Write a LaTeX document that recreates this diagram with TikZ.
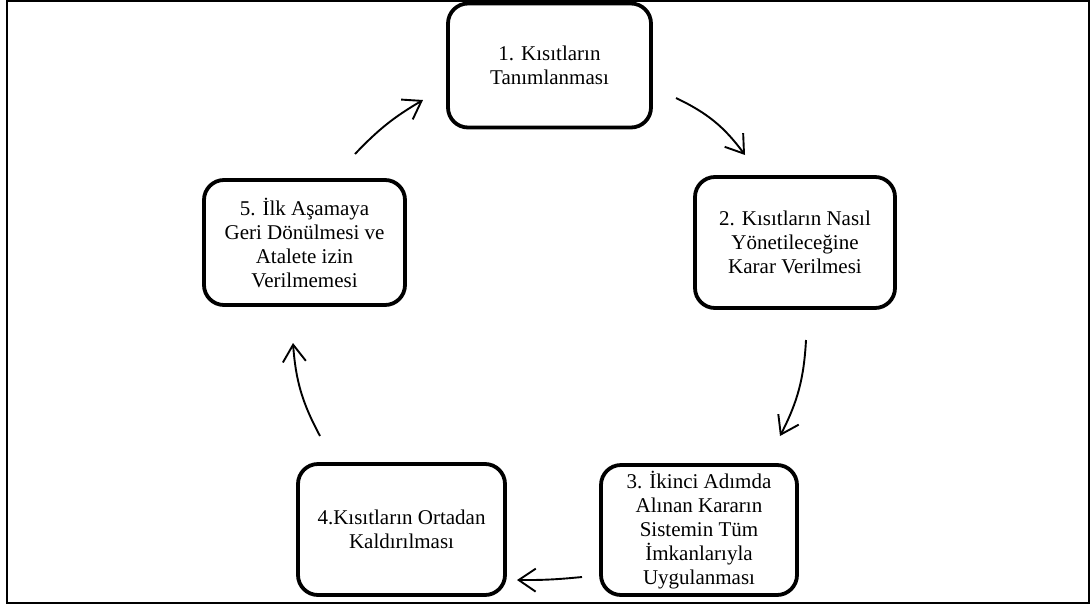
\documentclass[tikz,border=0pt]{standalone}
\usepackage{fontspec}
\setmainfont{Liberation Serif}
\usetikzlibrary{arrows.meta}
\begin{document}
\begin{tikzpicture}[x=1pt,y=-1pt,
  stepbox/.style={draw, line width=3.8pt, rounded corners=20pt, fill=white,
    align=center, font=\fontsize{21}{24}\selectfont, inner sep=0pt},
  flow/.style={line width=1.9pt, -{Straight Barb[length=17pt,width=23pt,line width=1.9pt]}}]
\useasboundingbox (0,0) rectangle (1091,608);
\draw[line width=1.6pt] (7,1) rectangle (1089,603);
% process steps
\node[stepbox, minimum width=203pt, minimum height=124pt] (s1) at (549.5,65.5)
  {1. Kısıtların\\Tanımlanması};
\node[stepbox, minimum width=200pt, minimum height=131pt] (s2) at (795,242.5)
  {2. Kısıtların Nasıl\\Yönetileceğine\\Karar Verilmesi};
\node[stepbox, minimum width=196pt, minimum height=130pt] (s3) at (699,530)
  {3. İkinci Adımda\\Alınan Kararın\\Sistemin Tüm\\İmkanlarıyla\\Uygulanması};
\node[stepbox, minimum width=207pt, minimum height=131pt] (s4) at (401.5,529.5)
  {4.Kısıtların Ortadan\\Kaldırılması};
\node[stepbox, minimum width=201pt, minimum height=125pt] (s5) at (304.5,242.5)
  {5. İlk Aşamaya\\Geri Dönülmesi ve\\Atalete izin\\Verilmemesi};
% connector end points
\coordinate (a1) at (676,98);  \coordinate (b1) at (745,155);
\coordinate (a2) at (806,340); \coordinate (b2) at (780,436);
\coordinate (a3) at (582,577); \coordinate (b3) at (517,580);
\coordinate (a4) at (320,436); \coordinate (b4) at (293,343);
\coordinate (a5) at (355,154); \coordinate (b5) at (423,100);
\draw[flow] (a1) to[bend left=14] (b1);
\draw[flow] (a2) to[bend left=12] (b2);
\draw[flow] (a3) to[bend left=3] (b3);
\draw[flow] (a4) to[bend left=12] (b4);
\draw[flow] (a5) to[bend left=8] (b5);
\end{tikzpicture}
\end{document}
